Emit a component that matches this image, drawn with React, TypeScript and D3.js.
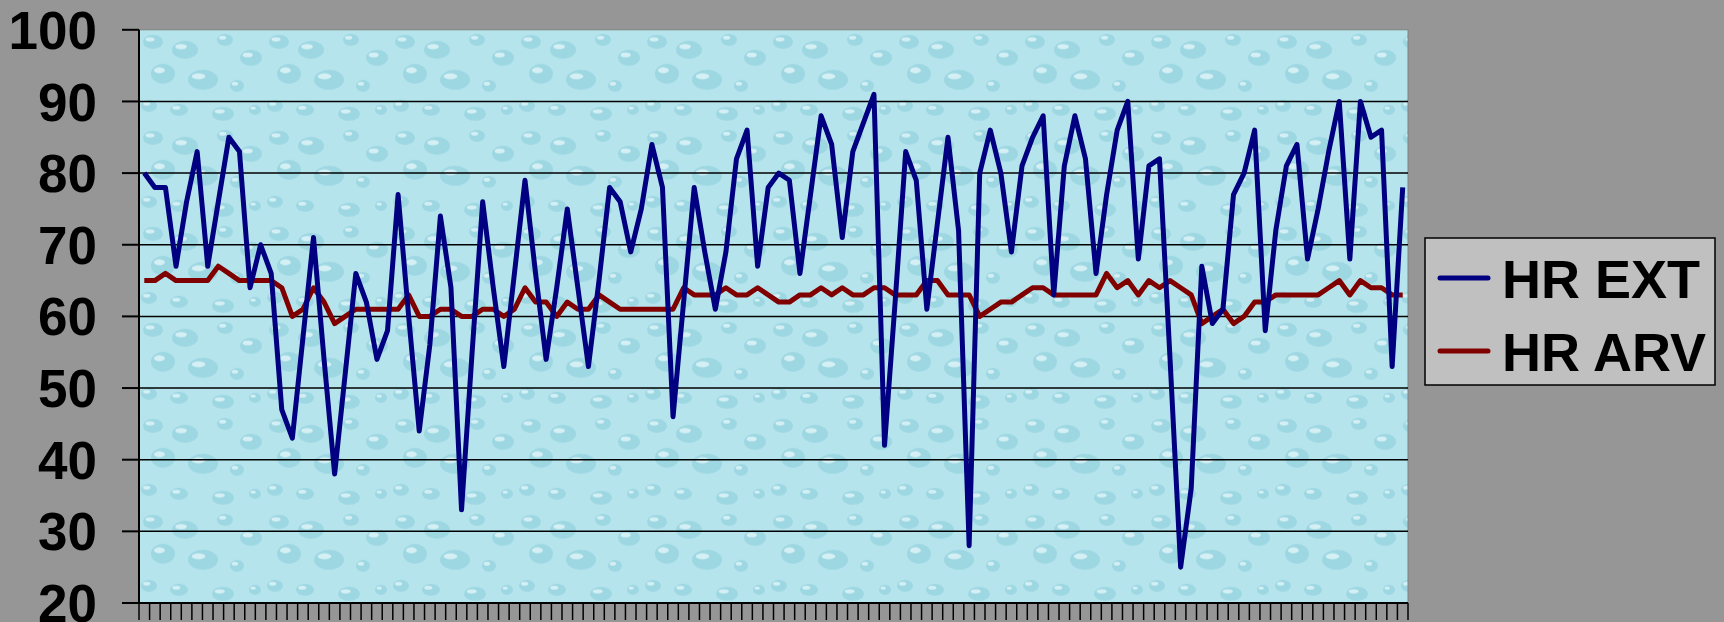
import React from "react";
import * as d3 from "d3";

const hrExt: number[] = [
  80, 78, 78, 67, 76, 83, 67, 76, 85, 83,
  64, 70, 66, 47, 43, 57, 71, 54, 38, 52,
  66, 62, 54, 58, 77, 60, 44, 56, 74, 64,
  33, 55, 76, 64, 53, 66, 79, 66, 54, 64,
  75, 64, 53, 65, 78, 76, 69, 75, 84, 78,
  46, 62, 78, 69, 61, 69, 82, 86, 67, 78,
  80, 79, 66, 77, 88, 84, 71, 83, 87, 91,
  42, 62, 83, 79, 61, 73, 85, 72, 28, 80,
  86, 80, 69, 81, 85, 88, 63, 81, 88, 82,
  66, 77, 86, 90, 68, 81, 82, 54, 25, 36,
  67, 59, 61, 77, 80, 86, 58, 72, 81, 84,
  68, 75, 83, 90, 68, 90, 85, 86, 53, 78,
];

const hrArv: number[] = [
  65, 65, 66, 65, 65, 65, 65, 67, 66, 65,
  65, 65, 65, 64, 60, 61, 64, 62, 59, 60,
  61, 61, 61, 61, 61, 63, 60, 60, 61, 61,
  60, 60, 61, 61, 60, 61, 64, 62, 62, 60,
  62, 61, 61, 63, 62, 61, 61, 61, 61, 61,
  61, 64, 63, 63, 63, 64, 63, 63, 64, 63,
  62, 62, 63, 63, 64, 63, 64, 63, 63, 64,
  64, 63, 63, 63, 65, 65, 63, 63, 63, 60,
  61, 62, 62, 63, 64, 64, 63, 63, 63, 63,
  63, 66, 64, 65, 63, 65, 64, 65, 64, 63,
  59, 60, 61, 59, 60, 62, 62, 63, 63, 63,
  63, 63, 64, 65, 63, 65, 64, 64, 63, 63,
];

const yTicks: number[] = [20, 30, 40, 50, 60, 70, 80, 90, 100];
const seriesNames: string[] = ["HR EXT", "HR ARV"];
const seriesColors: string[] = ["#000080", "#800000"];

const W = 1724;
const H = 622;
const PL = 139;
const PR = 1408;
const PT = 29.8;
const PB = 603;

export default function App() {
  const idx = hrExt.map((_, i) => i);
  const x = d3.scaleBand<number>().domain(idx).range([PL, PR]).padding(0);
  const y = d3.scaleLinear().domain([20, 100]).range([PB, PT]);
  const cx = (i: number) => (x(i) as number) + x.bandwidth() / 2;
  const line = d3
    .line<number>()
    .x((_, i) => cx(i))
    .y((d) => y(d));

  const boundaries = d3.range(hrExt.length + 1).map((i) => PL + i * x.bandwidth());

  const drops = [
    { cx: 14, cy: 12, rx: 10, ry: 7 },
    { cx: 46, cy: 20, rx: 13, ry: 9 },
    { cx: 86, cy: 10, rx: 8, ry: 6 },
    { cx: 112, cy: 28, rx: 11, ry: 8 },
    { cx: 24, cy: 44, rx: 12, ry: 10 },
    { cx: 64, cy: 50, rx: 15, ry: 10 },
    { cx: 98, cy: 56, rx: 7, ry: 6 },
    { cx: 10, cy: 76, rx: 8, ry: 6 },
    { cx: 40, cy: 80, rx: 9, ry: 6 },
    { cx: 84, cy: 84, rx: 11, ry: 7 },
    { cx: 116, cy: 80, rx: 6, ry: 5 },
  ];

  return (
    <svg
      width={W}
      height={H}
      style={{ position: "absolute", left: 0, top: 0, display: "block" }}
      fontFamily="'Liberation Sans', Arial, sans-serif"
    >
      <defs>
        <pattern id="water" width={126} height={96} patternUnits="userSpaceOnUse" x={PL} y={PT}>
          <rect width={126} height={96} fill="#b6e4ec" />
          {drops.map((d, i) => (
            <g key={i}>
              <ellipse cx={d.cx} cy={d.cy} rx={d.rx} ry={d.ry} fill="#8fcfdd" opacity={0.65} />
              <ellipse
                cx={d.cx - d.rx * 0.3}
                cy={d.cy - d.ry * 0.35}
                rx={d.rx * 0.45}
                ry={d.ry * 0.3}
                fill="#e6f8fb"
                opacity={0.75}
              />
            </g>
          ))}
        </pattern>
      </defs>
      <rect x={0} y={0} width={W} height={H} fill="#969696" />
      <rect x={PL} y={PT} width={PR - PL} height={PB - PT} fill="url(#water)" stroke="#808080" strokeWidth={1} />
      {yTicks
        .filter((t) => t > 20 && t < 100)
        .map((t) => (
          <line key={t} x1={PL} x2={PR} y1={y(t)} y2={y(t)} stroke="#000" strokeWidth={1.5} />
        ))}
      <line x1={PL} x2={PL} y1={PT} y2={PB} stroke="#000" strokeWidth={2} />
      {yTicks.map((t) => (
        <g key={t}>
          <line x1={122} x2={PL} y1={y(t)} y2={y(t)} stroke="#000" strokeWidth={2} />
          <text
            x={97}
            y={y(t)}
            dy="0.36em"
            textAnchor="end"
            fontSize={53}
            fontWeight="bold"
            fill="#000"
          >
            {t}
          </text>
        </g>
      ))}
      <line x1={PL} x2={PR} y1={PB} y2={PB} stroke="#000" strokeWidth={2} />
      {boundaries.map((bx, i) => (
        <line key={i} x1={bx} x2={bx} y1={PB} y2={620} stroke="#000" strokeWidth={1.5} />
      ))}
      <path d={line(hrArv) || ""} fill="none" stroke={seriesColors[1]} strokeWidth={5} strokeLinejoin="round" />
      <path d={line(hrExt) || ""} fill="none" stroke={seriesColors[0]} strokeWidth={5} strokeLinejoin="round" />
      <rect x={1425} y={238} width={290} height={147} fill="#c0c0c0" stroke="#000" strokeWidth={1.5} />
      {seriesNames.map((n, i) => (
        <g key={n}>
          <line
            x1={1440}
            x2={1488}
            y1={278 + i * 73}
            y2={278 + i * 73}
            stroke={seriesColors[i]}
            strokeWidth={5}
            strokeLinecap="round"
          />
          <text x={1502} y={298 + i * 73} fontSize={54} fontWeight="bold" fill="#000">
            {n}
          </text>
        </g>
      ))}
    </svg>
  );
}
